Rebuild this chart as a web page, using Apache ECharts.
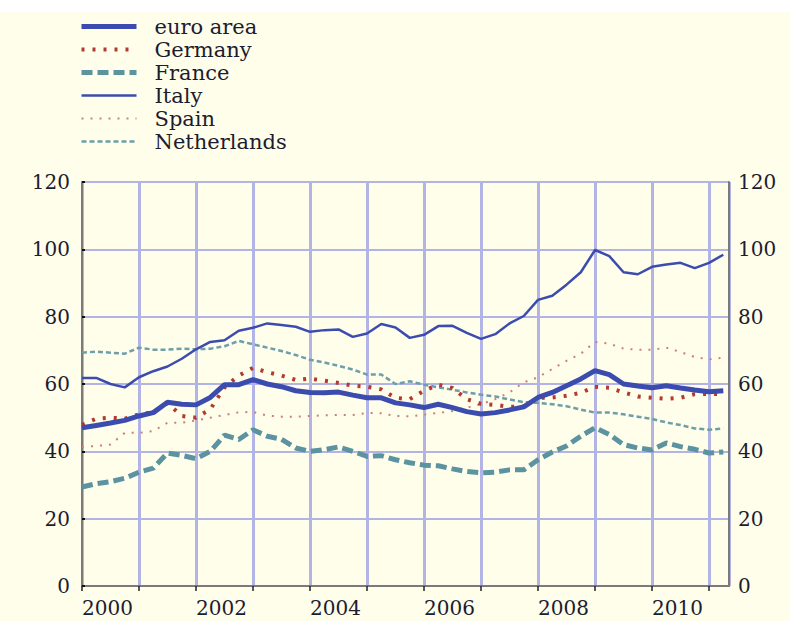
<!DOCTYPE html>
<html>
<head>
<meta charset="utf-8">
<script src="https://cdn.jsdelivr.net/npm/echarts@6/dist/echarts.min.js"></script>
<style>
html,body{margin:0;padding:0;background:#fffeeb;}
#top{position:absolute;left:0;top:0;width:790px;height:12px;background:#ffffff;z-index:2;}
#chart{position:absolute;left:0;top:0;width:790px;height:621px;}
</style>
</head>
<body>
<div id="chart"></div>
<div id="top"></div>
<script>
// Quarterly observations, 2000 Q1 .. 2011 Q2 (46 points)
var startYear = 2000;
var step = 0.25;
var seriesNames = ['euro area', 'Germany', 'France', 'Italy', 'Spain', 'Netherlands'];
var yTicks = [0, 20, 40, 60, 80, 100, 120];
var yearLabels = [2000, 2002, 2004, 2006, 2008, 2010];

var euroArea = [47, 47.7, 48.4, 49.2, 50.5, 51.5, 54.6, 54, 53.8, 56, 59.8, 59.8, 61.3, 60, 59.2, 58, 57.5, 57.4, 57.6, 56.7, 55.9, 55.9, 54.4, 53.8, 53, 54, 53, 51.8, 51.1, 51.5, 52.3, 53.2, 56, 57.5, 59.5, 61.5, 64, 62.8, 60, 59.4, 58.9, 59.5, 58.8, 58.2, 57.7, 58];
var germany = [47.9, 49.7, 50, 49.7, 51, 51.6, 54.3, 50.5, 50, 52.5, 59, 62.5, 64.8, 63.5, 62.5, 61.2, 61.6, 61, 60.3, 59.5, 59.2, 58.4, 55.9, 55.5, 58, 59.8, 58.8, 55.5, 54.1, 53.8, 53.2, 53.3, 55.9, 56, 56.5, 57.4, 59.2, 58.9, 57.5, 56.3, 55.9, 55.6, 55.9, 57, 57, 57];
var france = [29.4, 30.4, 31, 32, 33.8, 35, 39.5, 38.8, 37.8, 40, 44.8, 43.5, 46.4, 44.5, 43.6, 41, 40, 40.5, 41.3, 40, 38.5, 38.7, 37.5, 36.6, 35.9, 35.7, 34.8, 34, 33.6, 33.8, 34.5, 34.5, 37.5, 39.8, 41.6, 44.5, 47, 45, 42, 41, 40.4, 42.5, 41.4, 40.6, 39.5, 39.8];
var italy = [61.8, 61.8, 60, 59, 62, 63.8, 65.2, 67.5, 70.3, 72.5, 73, 75.8, 76.7, 78, 77.5, 77, 75.5, 76, 76.2, 74, 75, 77.8, 76.8, 73.7, 74.6, 77.2, 77.3, 75.2, 73.4, 74.8, 78, 80.2, 85, 86.2, 89.5, 93.2, 99.8, 98, 93.2, 92.6, 94.8, 95.5, 96, 94.4, 96, 98.4];
var spain = [41.3, 41.6, 42, 45.5, 45.5, 46, 48.5, 48.5, 49.2, 50, 50.8, 51.6, 51.7, 50.6, 50.3, 50.3, 50.5, 50.7, 50.8, 50.8, 51.4, 51.3, 50.5, 50.4, 50.9, 51.4, 52, 53, 54, 55.5, 57.5, 60.5, 62, 64.5, 66.9, 69, 72.5, 72, 70.5, 70.2, 70.2, 70.8, 69.5, 68, 67.3, 67.8];
var netherlands = [69.3, 69.6, 69.3, 69, 70.8, 70.2, 70.2, 70.5, 70.3, 70.5, 71.2, 72.8, 71.8, 70.8, 69.8, 68.6, 67.2, 66.4, 65.4, 64.3, 62.8, 62.8, 60, 60.8, 59.8, 59, 58.3, 57.5, 56.8, 56.3, 55.4, 54.6, 54.4, 54, 53.4, 52.4, 51.5, 51.5, 51, 50.3, 49.6, 48.6, 47.8, 46.8, 46.4, 46.8];

function pairs(arr) {
  return arr.map(function (v, i) { return [startYear + i * step, v]; });
}

var BLUE = '#3b4cae';
var RED = '#b23a2e';
var TEAL = '#5b93a0';
var PINK = '#cf7f77';
var TEAL2 = '#6d9eaa';
var GRID = '#b2b4e6';
var AXIS = '#7a7a7a';
var TXT = '#1c1c30';
var FONT = 'DejaVu Serif';

var styles = [
  {data: euroArea, color: BLUE, width: 5, type: 'solid', z: 8},
  {data: germany, color: RED, width: 4, type: [3, 8], z: 6},
  {data: france, color: TEAL, width: 5, type: [11, 5], z: 5},
  {data: italy, color: BLUE, width: 2.5, type: 'solid', z: 7},
  {data: spain, color: PINK, width: 2, type: [2, 7], z: 4},
  {data: netherlands, color: TEAL2, width: 2.5, type: [5, 3], z: 3}
];

var series = styles.map(function (s, k) {
  return {
    name: seriesNames[k],
    type: 'line',
    data: pairs(s.data),
    symbol: 'none',
    smooth: false,
    z: s.z,
    color: s.color,
    lineStyle: {color: s.color, width: s.width, type: s.type, cap: 'butt'},
    animation: false
  };
});

var legendData = styles.map(function (s, k) {
  return {
    name: seriesNames[k],
    itemStyle: {opacity: 0, color: 'transparent', borderWidth: 0},
    lineStyle: {color: s.color, width: s.width, type: s.type, cap: 'butt', opacity: 1}
  };
});

var chart = echarts.init(document.getElementById('chart'), null, {renderer: 'svg'});
chart.setOption({
  backgroundColor: '#fffeeb',
  animation: false,
  legend: {
    orient: 'vertical',
    left: 74,
    top: 10,
    itemWidth: 55,
    itemHeight: 14,
    itemGap: 0,
    data: legendData,
    itemStyle: {opacity: 0, borderWidth: 0},
    textStyle: {fontFamily: FONT, fontSize: 21, color: TXT, lineHeight: 23, padding: [0, 0, 0, 13]}
  },
  grid: {left: 82, right: 61, top: 182, bottom: 35, containLabel: false},
  xAxis: {
    type: 'value',
    min: 2000,
    max: 2011.35,
    interval: 1,
    axisLine: {show: true, lineStyle: {color: AXIS, width: 2}},
    axisTick: {show: true, inside: false, length: 5, lineStyle: {color: '#222', width: 1.5}},
    splitLine: {show: true, lineStyle: {color: GRID, width: 3}},
    axisLabel: {
      margin: 12,
      align: 'left',
      fontFamily: FONT,
      fontSize: 20,
      color: TXT,
      showMaxLabel: false,
      formatter: function (v) {
        return yearLabels.indexOf(v) >= 0 ? String(v) : '';
      }
    }
  },
  yAxis: [
    {
      type: 'value', position: 'left', min: 0, max: 120, interval: 20,
      axisLine: {show: true, lineStyle: {color: AXIS, width: 2}},
      axisTick: {show: true, inside: true, length: 3, lineStyle: {color: '#111', width: 2}},
      splitLine: {show: true, lineStyle: {color: GRID, width: 2}},
      axisLabel: {margin: 12, fontFamily: FONT, fontSize: 20, color: TXT,
        formatter: function (v) { return yTicks.indexOf(v) >= 0 ? String(v) : ''; }}
    },
    {
      type: 'value', position: 'right', min: 0, max: 120, interval: 20,
      axisLine: {show: true, lineStyle: {color: AXIS, width: 2}},
      axisTick: {show: false},
      splitLine: {show: false},
      axisLabel: {margin: 9, fontFamily: FONT, fontSize: 20, color: TXT,
        formatter: function (v) { return yTicks.indexOf(v) >= 0 ? String(v) : ''; }}
    }
  ],
  series: series
});
</script>
</body>
</html>
